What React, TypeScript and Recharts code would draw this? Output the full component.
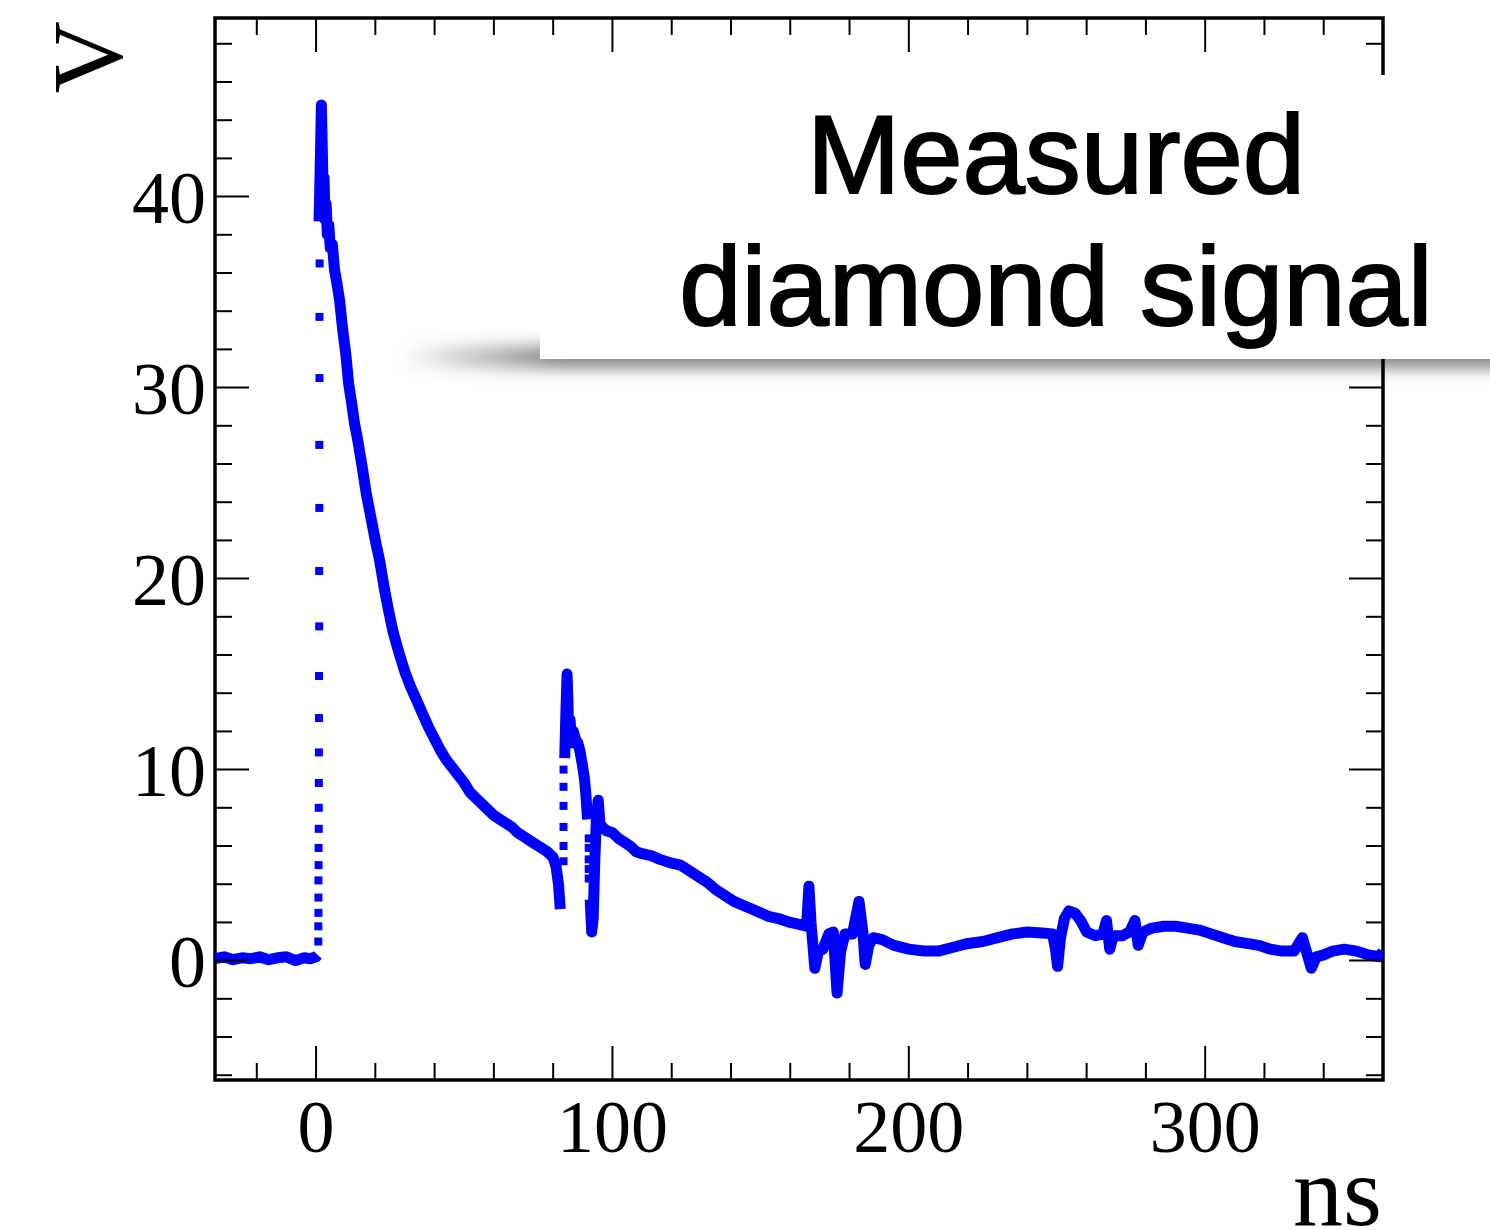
import React from "react";
import {
  ComposedChart,
  Line,
  Scatter,
  XAxis,
  YAxis,
  ReferenceArea,
} from "recharts";

// Axis ranges (ns, V) and tick positions
const X_DOMAIN: [number, number] = [-34.1, 360];
const Y_DOMAIN: [number, number] = [-6.25, 49.35];
const X_TICKS = [-20, 0, 20, 40, 60, 80, 100, 120, 140, 160, 180, 200, 220, 240, 260, 280, 300, 320, 340];
const Y_TICKS = [-6, -4, -2, 0, 2, 4, 6, 8, 10, 12, 14, 16, 18, 20, 22, 24, 26, 28, 30, 32, 34, 36, 38, 40, 42, 44, 46, 48];

// Pre-trigger baseline
const baseT = [-34.1, -31, -28, -25, -22, -19, -16, -13, -10, -7, -4, -2, 0, 0.6];
const baseV = [0.1, 0.2, 0.05, 0.15, 0.1, 0.2, 0.05, 0.15, 0.2, 0.0, 0.15, 0.1, 0.2, 0.3];

// Fast rising edge samples (drawn as separate markers)
const riseT = [0.75, 0.75, 0.8, 0.8, 0.8, 0.85, 0.85, 0.9, 0.9, 0.95, 0.95, 1.0, 1.0, 1.05, 1.05, 1.1, 1.1, 1.15, 1.15, 1.2];
const riseV = [1.0, 1.8, 2.5, 3.3, 4.2, 5.0, 5.9, 6.9, 8.0, 9.3, 10.9, 12.7, 14.9, 17.5, 20.4, 23.7, 27.0, 30.5, 33.7, 36.5];

// Main decay up to the first reflection
const decayT = [1.0, 1.4, 1.8, 2.1, 2.4, 2.7, 3.0, 3.4, 3.8, 4.3, 4.8, 5.5, 6.2, 7.0, 8.0, 9.0, 10.0, 11.0, 12.0, 13.0, 14.0, 15.5, 17.0, 18.5, 20.0, 21.5, 23.0, 24.5, 26.0, 28.0, 30.0, 32.0, 34.0, 36.0, 38.0, 40.0, 42.0, 44.0, 46.0, 48.0, 50.0, 52.0, 54.0, 56.0, 58.0, 60.0, 62.0, 64.0, 66.0, 68.0, 70.0, 72.0, 74.0, 76.0, 78.0, 80.0, 81.0, 81.8, 82.4];
const decayV = [38.7, 41.5, 44.8, 42.5, 40.0, 41.0, 38.8, 39.6, 38.0, 38.5, 37.3, 37.5, 36.2, 35.5, 34.5, 33.0, 31.8, 30.2, 29.2, 28.1, 27.3, 25.9, 24.4, 23.2, 22.0, 20.9, 19.5, 18.3, 17.2, 16.1, 15.1, 14.3, 13.6, 12.9, 12.2, 11.6, 11.0, 10.5, 10.1, 9.7, 9.3, 8.8, 8.5, 8.2, 7.9, 7.6, 7.4, 7.2, 7.0, 6.7, 6.5, 6.3, 6.1, 5.9, 5.7, 5.4, 4.9, 4.0, 2.7];

// Reflection pulse edges
const edgeAT = [83.5, 83.5, 83.5, 83.5, 83.5, 83.5];
const edgeAV = [5.2, 6.0, 7.0, 8.1, 9.1, 10.0];
const reflT = [83.9, 84.3, 84.7, 85.0, 85.3, 85.7, 86.2, 86.8, 87.5, 88.3, 89.0, 89.8, 90.5, 91.0, 91.6];
const reflV = [10.6, 13.0, 15.0, 13.5, 11.5, 12.6, 11.4, 12.0, 11.6, 11.4, 11.0, 10.3, 9.6, 8.8, 7.4];
const edgeBT = [92.0, 92.0, 92.0, 92.0, 92.0];
const edgeBV = [6.4, 5.9, 5.3, 4.8, 4.3];

// Tail after the reflection
const tailT = [92.5, 93.0, 93.5, 94.0, 94.6, 95.2, 95.8, 96.5, 98.0, 100.0, 102.0, 104.0, 106.0, 108.0, 110.0, 113.0, 116.0, 120.0, 123.0, 126.0, 129.0, 132.0, 135.0, 138.0, 141.0, 144.0, 147.0, 150.0, 153.0, 156.0, 160.0, 163.0, 165.5, 166.3, 167.0, 168.3, 169.5, 171.0, 173.0, 174.5, 175.8, 177.0, 178.5, 181.0, 183.2, 184.5, 185.3, 186.5, 188.0, 191.0, 195.0, 200.0, 205.0, 210.0, 215.0, 220.0, 225.0, 230.0, 235.0, 240.0, 245.0, 248.5, 249.5, 250.2, 251.2, 252.5, 254.0, 256.0, 258.0, 260.0, 263.0, 265.5, 266.7, 267.8, 269.0, 272.0, 274.5, 276.3, 277.4, 279.0, 282.0, 286.0, 290.0, 294.0, 298.0, 302.0, 306.0, 310.0, 314.0, 318.0, 322.0, 326.0, 330.0, 332.8, 334.5, 335.8, 337.5, 340.0, 343.0, 347.0, 351.0, 355.0, 359.0, 360.0];
const tailV = [3.2, 1.5, 2.2, 5.0, 7.5, 8.4, 7.2, 7.0, 6.8, 6.7, 6.4, 6.2, 6.0, 5.7, 5.6, 5.5, 5.3, 5.1, 5.0, 4.7, 4.4, 4.1, 3.7, 3.4, 3.1, 2.9, 2.7, 2.5, 2.3, 2.2, 2.0, 1.9, 1.8, 3.9, 2.0, -0.4, 0.5, 0.6, 1.4, 1.5, -1.7, 0.5, 1.4, 1.4, 3.1, 1.5, -0.2, 0.8, 1.2, 1.1, 0.8, 0.6, 0.5, 0.5, 0.7, 0.9, 1.0, 1.2, 1.4, 1.5, 1.45, 1.4, 0.6, -0.3, 1.2, 2.2, 2.6, 2.5, 2.1, 1.5, 1.3, 1.4, 2.1, 0.6, 1.3, 1.3, 1.5, 2.1, 0.8, 1.5, 1.7, 1.8, 1.8, 1.7, 1.6, 1.4, 1.2, 1.0, 0.9, 0.8, 0.6, 0.5, 0.5, 1.2, 0.3, -0.4, 0.2, 0.3, 0.5, 0.6, 0.5, 0.3, 0.2, 0.5];

const toPoints = (ts: number[], vs: number[]) => ts.map((t, i) => ({ t, v: vs[i] }));

const PLOT = { left: 215, right: 1383, top: 18, bottom: 1080 };
const BLUE = "#0000ff";
const SERIF = "'Liberation Serif', 'Times New Roman', serif";
const SANS = "'Liberation Sans', Arial, Helvetica, sans-serif";

const XTick = (props: any) => {
  const { x, payload } = props;
  const v = payload.value;
  const major = v % 100 === 0;
  const len = major ? 34 : 17;
  return (
    <g>
      <line x1={x} x2={x} y1={PLOT.bottom} y2={PLOT.bottom - len} stroke="#000" strokeWidth={2} />
      <line x1={x} x2={x} y1={PLOT.top} y2={PLOT.top + len} stroke="#000" strokeWidth={2} />
      {major && (
        <text x={x} y={PLOT.bottom + 72} textAnchor="middle" fontFamily={SERIF} fontSize={74} fill="#000">
          {v}
        </text>
      )}
    </g>
  );
};

const YTick = (props: any) => {
  const { y, payload } = props;
  const v = payload.value;
  const major = v % 10 === 0;
  const len = major ? 34 : 17;
  return (
    <g>
      <line x1={PLOT.left} x2={PLOT.left + len} y1={y} y2={y} stroke="#000" strokeWidth={2} />
      <line x1={PLOT.right} x2={PLOT.right - len} y1={y} y2={y} stroke="#000" strokeWidth={2} />
      {major && (
        <text x={206} y={y + 26} textAnchor="end" fontFamily={SERIF} fontSize={74} fill="#000">
          {v}
        </text>
      )}
    </g>
  );
};

const Marker = (p: any) => <rect x={p.cx - 4} y={p.cy - 4} width={8} height={8} fill={BLUE} />;

const segments = [
  toPoints(baseT, baseV),
  toPoints(decayT, decayV),
  toPoints(reflT, reflV),
  toPoints(tailT, tailV),
];
const edges = [toPoints(riseT, riseV), toPoints(edgeAT, edgeAV), toPoints(edgeBT, edgeBV)];

export default function App() {
  return (
    <div style={{ position: "absolute", left: 0, top: 0, width: 1490, height: 1230, background: "#fff" }}>
      <ComposedChart
        width={1490}
        height={1230}
        margin={{ top: PLOT.top, right: 1490 - PLOT.right, bottom: 0, left: 0 }}
      >
        <XAxis
          type="number"
          dataKey="t"
          domain={X_DOMAIN}
          ticks={X_TICKS}
          interval={0}
          allowDataOverflow
          height={1230 - PLOT.bottom}
          axisLine={false}
          tickLine={false}
          tick={<XTick />}
        />
        <YAxis
          type="number"
          dataKey="v"
          domain={Y_DOMAIN}
          ticks={Y_TICKS}
          interval={0}
          allowDataOverflow
          width={PLOT.left}
          axisLine={false}
          tickLine={false}
          tick={<YTick />}
        />
        <ReferenceArea
          x1={X_DOMAIN[0]}
          x2={X_DOMAIN[1]}
          y1={Y_DOMAIN[0]}
          y2={Y_DOMAIN[1]}
          fill="none"
          stroke="#000"
          strokeWidth={3.5}
        />
        {segments.map((seg, i) => (
          <Line
            key={`seg-${i}`}
            data={seg}
            dataKey="v"
            type="linear"
            stroke={BLUE}
            strokeWidth={11}
            strokeLinejoin="round"
            dot={false}
            isAnimationActive={false}
          />
        ))}
        {edges.map((pts, i) => (
          <Scatter key={`edge-${i}`} data={pts} dataKey="v" shape={Marker} isAnimationActive={false} />
        ))}
      </ComposedChart>

      <svg
        width={1490}
        height={1230}
        style={{ position: "absolute", left: 0, top: 0, pointerEvents: "none" }}
      >
        <defs>
          <filter id="soft" x="-20%" y="-300%" width="140%" height="700%">
            <feGaussianBlur stdDeviation="9" />
          </filter>
          <linearGradient id="shadeFade" x1="0" y1="0" x2="1" y2="0">
            <stop offset="0" stopColor="#000" stopOpacity={0} />
            <stop offset="0.14" stopColor="#000" stopOpacity={0.6} />
            <stop offset="1" stopColor="#000" stopOpacity={0.6} />
          </linearGradient>
        </defs>
        <text
          x={121}
          y={21}
          transform="rotate(-90 121 21)"
          textAnchor="end"
          fontFamily={SERIF}
          fontSize={100}
          fill="#000"
        >
          V
        </text>
        <text x={1382} y={1225} textAnchor="end" fontFamily={SERIF} fontSize={100} fill="#000">
          ns
        </text>

        {/* label box with drop shadow */}
        <rect x={400} y={348} width={1130} height={18} fill="url(#shadeFade)" filter="url(#soft)" />
        <rect x={540} y={75} width={960} height={284} fill="#fff" />
        <g fontFamily={SANS} fontSize={112} fill="#000" stroke="#000" strokeWidth={2} textAnchor="middle">
          <text x={1056} y={193}>Measured</text>
          <text x={1056} y={325}>diamond signal</text>
        </g>
      </svg>
    </div>
  );
}
